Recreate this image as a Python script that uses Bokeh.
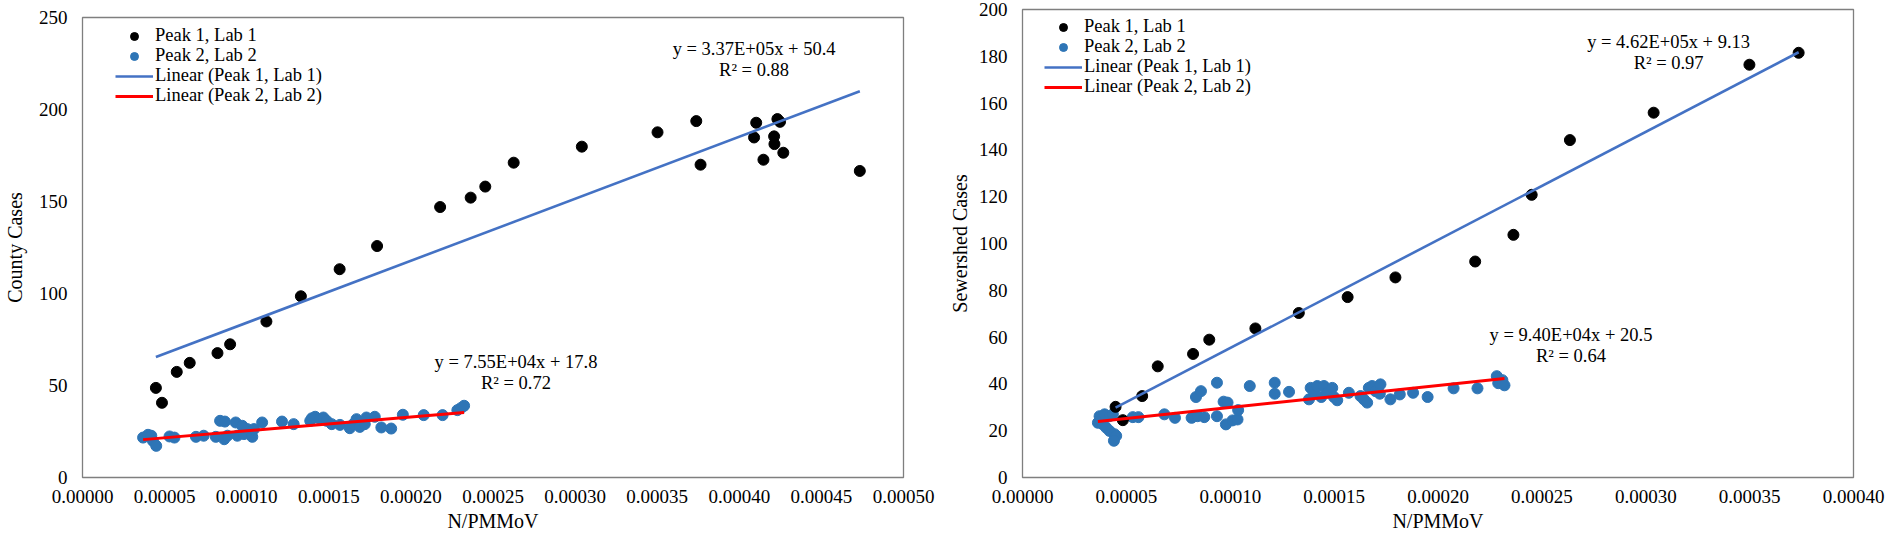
from bokeh.plotting import figure
from bokeh.layouts import row, column
from bokeh.models import Range1d, FixedTicker, PrintfTickFormatter, Legend, LegendItem, Label, Spacer
from bokeh.embed import file_html
from bokeh.resources import INLINE

# ---------------- data: left chart (County Cases) ----------------
county_p1_x = [0.0000447, 0.0000484, 0.0000574, 0.0000653, 0.0000822, 0.0000899, 0.000112, 0.000133,
               0.0001566, 0.0001794, 0.0002178, 0.0002364, 0.0002453, 0.0002626, 0.0003041, 0.0003502,
               0.0003738, 0.0003764, 0.0004103, 0.000409, 0.0004147, 0.0004232, 0.0004248, 0.0004212,
               0.0004214, 0.0004268, 0.0004734]
county_p1_y = [48.7, 40.6, 57.4, 62.3, 67.6, 72.4, 84.8, 98.5, 113.2, 125.8, 147.0, 152.1, 158.1, 171.1,
               179.8, 187.6, 193.7, 170.0, 192.8, 184.8, 172.7, 194.8, 193.3, 185.4, 181.2, 176.5, 166.6]
county_p2_x = [3.69e-5, 3.99e-5, 4.19e-5, 4.29e-5, 4.49e-5, 5.30e-5, 5.60e-5, 6.91e-5, 7.38e-5, 8.12e-5,
               8.38e-5, 8.67e-5, 8.63e-5, 8.83e-5, 9.33e-5, 9.43e-5, 9.73e-5, 9.83e-5, 1.004e-4, 1.034e-4,
               1.044e-4, 1.094e-4, 1.215e-4, 1.286e-4, 1.387e-4, 1.397e-4, 1.417e-4, 1.447e-4, 1.467e-4,
               1.487e-4, 1.518e-4, 1.568e-4, 1.628e-4, 1.649e-4, 1.669e-4, 1.689e-4, 1.719e-4, 1.729e-4,
               1.780e-4, 1.820e-4, 1.880e-4, 1.951e-4, 2.078e-4, 2.193e-4, 2.283e-4, 2.304e-4, 2.324e-4]
county_p2_y = [21.7, 23.2, 22.7, 19.9, 17.2, 22.3, 21.7, 22.1, 22.7, 22.1, 30.8, 30.4, 20.8, 22.7, 29.9,
               22.7, 28.1, 23.6, 26.3, 22.1, 26.3, 29.9, 30.4, 29.0, 30.8, 32.2, 33.0, 31.7, 32.6, 30.8,
               29.0, 28.6, 26.8, 29.0, 31.7, 27.5, 29.0, 32.6, 33.0, 27.2, 26.6, 34.1, 33.9, 33.9, 36.6,
               37.7, 39.0]
county_fit_p1 = (3.37e5, 50.4)
county_fit_p2 = (7.55e4, 17.8)
county_eq_p1 = ["y = 3.37E+05x + 50.4", "R² = 0.88"]
county_eq_p2 = ["y = 7.55E+04x + 17.8", "R² = 0.72"]
county_x_ticks = [0.0, 0.00005, 0.0001, 0.00015, 0.0002, 0.00025, 0.0003, 0.00035, 0.0004, 0.00045, 0.0005]
county_y_ticks = [0, 50, 100, 150, 200, 250]

# ---------------- data: right chart (Sewershed Cases) ----------------
sewer_p1_x = [4.48e-5, 4.83e-5, 5.76e-5, 6.51e-5, 8.21e-5, 8.99e-5, 1.121e-4, 1.33e-4, 1.565e-4, 1.795e-4,
              2.179e-4, 2.363e-4, 2.451e-4, 2.635e-4, 3.038e-4, 3.499e-4, 3.736e-4]
sewer_p1_y = [30.2, 24.5, 34.8, 47.5, 52.8, 58.9, 63.7, 70.3, 77.1, 85.5, 92.3, 103.7, 120.8, 144.2, 155.9,
              176.4, 181.5]
sewer_p2_x = [3.63e-5, 3.71e-5, 3.87e-5, 3.95e-5, 4.03e-5, 4.19e-5, 4.19e-5, 4.35e-5, 4.43e-5, 4.51e-5,
              4.40e-5, 5.31e-5, 5.58e-5, 6.83e-5, 7.34e-5, 8.14e-5, 8.35e-5, 8.59e-5, 8.43e-5, 8.75e-5,
              9.36e-5, 9.36e-5, 9.68e-5, 9.79e-5, 9.87e-5, 1.011e-4, 1.035e-4, 1.038e-4, 1.094e-4, 1.214e-4,
              1.214e-4, 1.283e-4, 1.379e-4, 1.387e-4, 1.403e-4, 1.419e-4, 1.438e-4, 1.451e-4, 1.467e-4,
              1.491e-4, 1.499e-4, 1.515e-4, 1.571e-4, 1.627e-4, 1.643e-4, 1.659e-4, 1.667e-4, 1.683e-4,
              1.699e-4, 1.723e-4, 1.720e-4, 1.771e-4, 1.816e-4, 1.880e-4, 1.950e-4, 2.075e-4, 2.19e-4,
              2.283e-4, 2.29e-4, 2.31e-4, 2.32e-4]
sewer_p2_y = [23.4, 26.2, 22.7, 27.0, 21.3, 26.2, 19.9, 27.0, 18.5, 17.8, 15.7, 25.8, 25.8, 27.0, 25.5,
              25.5, 34.4, 36.9, 26.2, 25.8, 40.5, 26.2, 32.4, 22.7, 32.0, 24.4, 24.8, 28.8, 39.1, 40.5,
              35.8, 36.6, 33.4, 38.3, 36.6, 39.1, 34.4, 39.1, 36.2, 38.3, 34.4, 33.0, 36.2, 34.8, 33.4,
              32.0, 38.3, 39.1, 36.9, 39.8, 35.8, 33.4, 35.5, 36.2, 34.4, 38.1, 38.1, 43.3, 40.3, 41.6, 39.4]
sewer_fit_p1 = (4.62e5, 9.13)
sewer_fit_p2 = (9.40e4, 20.5)
sewer_eq_p1 = ["y = 4.62E+05x + 9.13", "R² = 0.97"]
sewer_eq_p2 = ["y = 9.40E+04x + 20.5", "R² = 0.64"]
sewer_x_ticks = [0.0, 0.00005, 0.0001, 0.00015, 0.0002, 0.00025, 0.0003, 0.00035, 0.0004]
sewer_y_ticks = [0, 20, 40, 60, 80, 100, 120, 140, 160, 180, 200]

series_labels = ["Peak 1, Lab 1", "Peak 2, Lab 2", "Linear (Peak 1, Lab 1)", "Linear (Peak 2, Lab 2)"]

FONT = "Liberation Serif"
BLACK_DOT = "#000000"
BLUE_DOT = "#2E75B6"
BLUE_LINE = "#4472C4"
RED_LINE = "#FF0000"


def make_chart(width, height, xmax, ymax, x_ticks, y_ticks, ylabel,
               p1x, p1y, p2x, p2y, fit1, fit2, eq1, eq2, eq1_pos, eq2_pos,
               borders, legend_pos, frame_h, title_standoff):
    bl, br, bt, bb = borders
    p = figure(width=width, height=height, x_range=Range1d(0, xmax), y_range=Range1d(0, ymax),
               output_backend="svg", toolbar_location=None,
               min_border_left=bl, min_border_right=br, min_border_top=bt, min_border_bottom=bb)
    p.grid.visible = False
    p.outline_line_color = "#7f7f7f"
    p.outline_line_width = 1.3
    p.background_fill_color = "white"
    p.border_fill_color = "white"

    for ax in (p.xaxis[0], p.yaxis[0]):
        ax.axis_line_color = None
        ax.major_tick_line_color = None
        ax.minor_tick_line_color = None
        ax.major_tick_out = 0
        ax.major_tick_in = 0
        ax.major_label_text_font = FONT
        ax.major_label_text_font_size = "19px"
        ax.major_label_text_color = "black"
        ax.axis_label_text_font = FONT
        ax.axis_label_text_font_size = "20px"
        ax.axis_label_text_font_style = "normal"
        ax.axis_label_text_color = "black"

    p.xaxis.ticker = FixedTicker(ticks=x_ticks)
    p.xaxis.formatter = PrintfTickFormatter(format="%.5f")
    p.xaxis.major_label_standoff = 12
    p.xaxis.axis_label = "N/PMMoV"
    p.xaxis.axis_label_standoff = 4

    p.yaxis.ticker = FixedTicker(ticks=y_ticks)
    p.yaxis.major_label_standoff = 15
    p.yaxis.axis_label = ylabel
    p.yaxis.axis_label_standoff = title_standoff

    r2 = p.scatter(p2x, p2y, size=11, color=BLUE_DOT)
    r1 = p.scatter(p1x, p1y, size=11, color=BLACK_DOT)
    x1 = [min(p1x), max(p1x)]
    l1 = p.line(x1, [fit1[0] * v + fit1[1] for v in x1], line_width=2.6, color=BLUE_LINE)
    x2 = [min(p2x), max(p2x)]
    l2 = p.line(x2, [fit2[0] * v + fit2[1] for v in x2], line_width=3, color=RED_LINE)

    # one legend row per entry so that the rows sit 20 px apart as in the reference
    gx, gy0 = legend_pos
    for i, (lab, rend) in enumerate(zip(series_labels, [r1, r2, l1, l2])):
        centre = gy0 + 20 * i
        leg = Legend(items=[LegendItem(label=lab, renderers=[rend])],
                     location=(gx, frame_h - centre - 11),
                     border_line_color=None, background_fill_alpha=0,
                     label_text_font=FONT, label_text_font_size="18.5px", label_text_color="black",
                     glyph_width=38, glyph_height=20, label_height=20, label_standoff=2,
                     spacing=0, padding=0, margin=0)
        p.add_layout(leg)

    for (eq, pos) in ((eq1, eq1_pos), (eq2, eq2_pos)):
        for i, txt in enumerate(eq):
            p.add_layout(Label(x=pos[0], y=pos[1 + i], text=txt, text_align="center",
                               text_baseline="middle", text_font=FONT, text_font_size="18.5px",
                               text_color="black"))
    return p


left = make_chart(945, 526, 0.0005, 250, county_x_ticks, county_y_ticks, "County Cases",
                  county_p1_x, county_p1_y, county_p2_x, county_p2_y,
                  county_fit_p1, county_fit_p2, county_eq_p1, county_eq_p2,
                  (0.000409, 232.8, 221.6), (0.000264, 62.9, 51.6),
                  (76, 42, 9, 57), (33, 18), 460, 10)

right = make_chart(941, 534, 0.0004, 200, sewer_x_ticks, sewer_y_ticks, "Sewershed Cases",
                   sewer_p1_x, sewer_p1_y, sewer_p2_x, sewer_p2_y,
                   sewer_fit_p1, sewer_fit_p2, sewer_eq_p1, sewer_eq_p2,
                   (0.000311, 186.0, 177.2), (0.000264, 61.0, 52.1),
                   (75, 33, 9, 55), (22, 19), 470, 5)

layout = row(column(Spacer(height=8), left, spacing=0), right, spacing=0)
open("out.html", "w").write(file_html(layout, INLINE))
